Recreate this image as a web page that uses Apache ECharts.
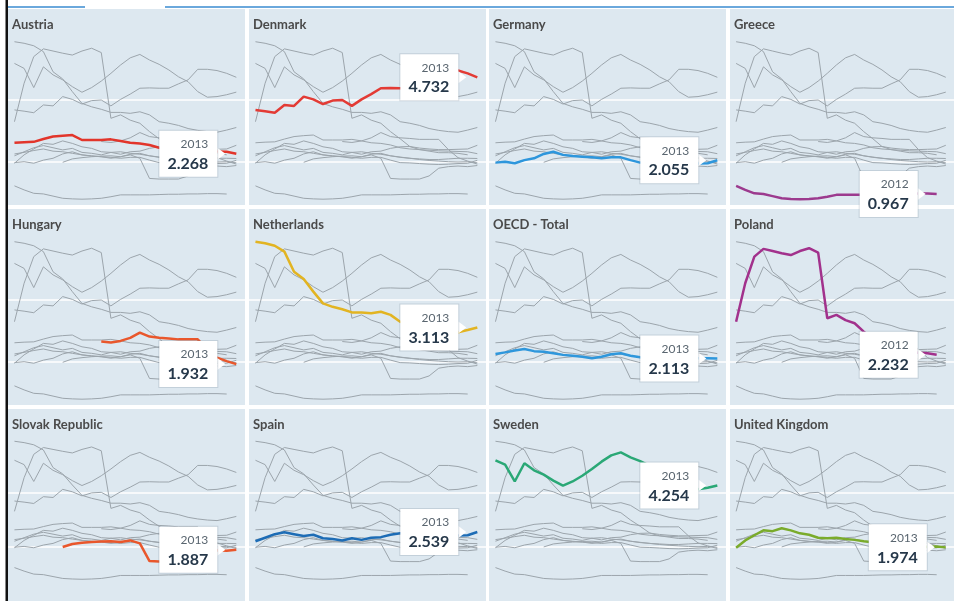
<!DOCTYPE html>
<html>
<head>
	<meta charset="utf-8">
	<title>Small multiples</title>
	<script src="https://cdn.jsdelivr.net/npm/echarts@6/dist/echarts.min.js"></script>
	<style>
	  html, body{
		margin: 0;
		padding: 0;
		background: #fff;
	  }
	  #chart{
		width: 954px;
		height: 601px;
	  }
	</style>
</head>
<body>
<div id="chart"></div>
<script>
	var years = [1990, 1991, 1992, 1993, 1994, 1995, 1996, 1997, 1998, 1999, 2000, 2001,
		2002, 2003, 2004, 2005, 2006, 2007, 2008, 2009, 2010, 2011, 2012, 2013];

	var names = ['Austria', 'Denmark', 'Germany', 'Greece', 'Hungary', 'Netherlands',
		'OECD - Total', 'Poland', 'Slovak Republic', 'Spain', 'Sweden', 'United Kingdom'];

	var austria = [2.62, 2.64, 2.65, 2.74, 2.82, 2.85, 2.87, 2.71, 2.71, 2.71, 2.73, 2.68, 2.62, 2.60, 2.55, 2.46, 2.42, 2.40, 2.38, 2.36, 2.35, 2.34, 2.33, 2.268];
	var denmark = [3.68, 3.64, 3.59, 3.84, 3.81, 4.11, 4.02, 3.87, 3.98, 4.00, 3.81, 4.02, 4.19, 4.38, 4.39, 4.38, 4.38, 4.52, 4.65, 4.99, 4.99, 4.95, 4.86, 4.732];
	var germany = [1.98, 2.01, 1.96, 2.06, 2.12, 2.26, 2.33, 2.23, 2.19, 2.17, 2.15, 2.12, 2.15, 2.15, 2.06, 1.98, 1.97, 1.95, 1.93, 1.92, 1.93, 1.95, 1.96, 2.055];
	var greece = [1.23, 1.10, 0.99, 0.97, 0.90, 0.83, 0.81, 0.80, 0.81, 0.83, 0.88, 0.94, 0.94, 0.94, 0.94, 0.95, 0.96, 0.96, 0.97, 0.97, 0.98, 0.98, 0.967, null];
	var hungary = [null, null, null, null, null, null, null, null, null, 2.66, 2.63, 2.68, 2.78, 2.95, 2.82, 2.78, 2.76, 2.73, 2.73, 2.73, 2.40, 2.14, 2.03, 1.932];
	var netherlands = [5.88, 5.83, 5.75, 5.56, 4.91, 4.68, 4.27, 3.89, 3.78, 3.70, 3.60, 3.60, 3.57, 3.62, 3.52, 3.30, 3.25, 3.18, 3.08, 3.02, 2.98, 2.96, 3.03, 3.113];
	var oecd = [2.26, 2.31, 2.37, 2.42, 2.35, 2.33, 2.28, 2.23, 2.20, 2.17, 2.12, 2.17, 2.25, 2.28, 2.20, 2.15, 2.12, 2.10, 2.08, 2.08, 2.10, 2.12, 2.12, 2.113];
	var poland = [3.30, 4.54, 5.40, 5.65, 5.58, 5.51, 5.45, 5.58, 5.67, 5.53, 3.41, 3.52, 3.35, 3.25, 2.98, 2.75, 2.50, 2.40, 2.35, 2.30, 2.30, 2.28, 2.232, null];
	var slovak = [null, null, null, null, null, 1.99, 2.10, 2.14, 2.17, 2.19, 2.20, 2.17, 2.23, 2.12, 1.47, 1.45, 1.45, 1.45, 1.55, 1.80, 1.85, 1.87, 1.85, 1.887];
	var spain = [2.20, 2.33, 2.46, 2.53, 2.46, 2.39, 2.44, 2.31, 2.28, 2.23, 2.31, 2.25, 2.33, 2.35, 2.44, 2.49, 2.50, 2.45, 2.42, 2.40, 2.40, 2.41, 2.42, 2.539];
	var sweden = [5.18, 5.02, 4.40, 5.07, 4.81, 4.65, 4.43, 4.25, 4.40, 4.61, 4.86, 5.13, 5.36, 5.47, 5.29, 5.15, 4.97, 4.75, 4.59, 4.27, 4.09, 4.11, 4.17, 4.254];
	var uk = [1.96, 2.23, 2.42, 2.60, 2.57, 2.68, 2.60, 2.49, 2.44, 2.33, 2.31, 2.33, 2.28, 2.25, 2.20, 2.16, 2.12, 2.08, 2.05, 2.03, 2.01, 2.00, 2.01, 1.974];

	var allData = [austria, denmark, germany, greece, hungary, netherlands, oecd, poland, slovak, spain, sweden, uk];
	var colors = ['#e2352b', '#e33b35', '#2d96dc', '#9c3a8e', '#e9572c', '#e2b422',
		'#2e97dc', '#a2318c', '#e9572c', '#1d6cb5', '#2aa876', '#7aab2b'];

	// panel placement
	var colLeft = [8, 249, 489, 730];
	var rowTop = [9, 209, 409];
	var panelW = 237, panelH = 196;
	var font = 'Lato, "Open Sans", sans-serif';

	function pairs(arr){
		var out = [];
		for(var i = 0; i < arr.length; i++){
			if(arr[i] !== null) out.push([years[i], arr[i]]);
		}
		return out;
	}

	var option = {
		animation: false,
		title: [],
		grid: [],
		xAxis: [],
		yAxis: [],
		series: [],
		graphic: { elements: [] }
	};

	names.forEach(function(name, p){
		var left = colLeft[p % 4], top = rowTop[Math.floor(p / 4)];

		option.graphic.elements.push({
			type: 'rect', z: -10, silent: true,
			shape: { x: left, y: top, width: panelW, height: panelH },
			style: { fill: '#dde8f0' }
		});

		option.title.push({
			text: name, left: left + 4, top: top + 9, padding: 0,
			textStyle: { fontFamily: font, fontSize: 13, fontWeight: 'bold', color: '#4a4a4a' }
		});

		option.grid.push({ left: left, top: top + 29, width: panelW, height: 186 });

		option.xAxis.push({
			type: 'value', gridIndex: p, min: 1989.33, max: 2013.9, show: false
		});

		option.yAxis.push({
			type: 'value', gridIndex: p, min: 0, max: 6, interval: 2,
			axisLine: { show: false }, axisTick: { show: false }, axisLabel: { show: false },
			splitLine: { show: true, showMinLine: false, showMaxLine: false, lineStyle: { color: '#ffffff', width: 1.5 } }
		});

		// the other countries in gray
		allData.forEach(function(d, k){
			if(k === p) return;
			option.series.push({
				type: 'line', xAxisIndex: p, yAxisIndex: p, data: pairs(d),
				symbol: 'none', silent: true, z: 2,
				lineStyle: { color: '#9ca5ac', width: 1 }
			});
		});

		var pts = pairs(allData[p]);
		var lastPt = pts[pts.length - 1];

		option.series.push({
			type: 'line', xAxisIndex: p, yAxisIndex: p, data: pts,
			symbol: 'none', silent: true, z: 3,
			lineStyle: { color: colors[p], width: 2.5 },
			markPoint: {
				silent: true,
				data: [
					{
						coord: lastPt, symbol: 'triangle', symbolSize: [12, 8], symbolRotate: -90,
						symbolOffset: [-15, 0], itemStyle: { color: '#ffffff' }, label: { show: false }
					},
					{
						coord: lastPt, symbol: 'circle', symbolSize: 0,
						itemStyle: { color: 'rgba(0,0,0,0)' },
						label: {
							show: true, position: 'left', distance: 19,
							backgroundColor: '#ffffff',
							borderColor: 'rgba(120,135,150,0.25)', borderWidth: 1,
							padding: [4, 9, 3, 8], width: 41,
							formatter: '{y|' + lastPt[0] + '}\n{v|' + lastPt[1].toFixed(3) + '}',
							rich: {
								y: { fontFamily: font, fontSize: 12, color: '#59656f', align: 'right', lineHeight: 19 },
								v: { fontFamily: font, fontSize: 16, fontWeight: 'bold', color: '#26384a', align: 'right', lineHeight: 20 }
							}
						}
					}
				]
			}
		});
	});

	// frame: left rule and top tab line
	option.graphic.elements.push(
		{ type: 'rect', z: 50, silent: true, shape: { x: 5.5, y: 0, width: 2.5, height: 601 }, style: { fill: '#111111' } },
		{ type: 'line', z: 50, silent: true, shape: { x1: 8, y1: 7, x2: 85, y2: 7 }, style: { stroke: '#3a8bd0', lineWidth: 1.5 } },
		{ type: 'line', z: 50, silent: true, shape: { x1: 165, y1: 7, x2: 954, y2: 7 }, style: { stroke: '#3a8bd0', lineWidth: 1.5 } }
	);

	var myChart = echarts.init(document.getElementById('chart'));
	myChart.setOption(option);
</script>
</body>
</html>
